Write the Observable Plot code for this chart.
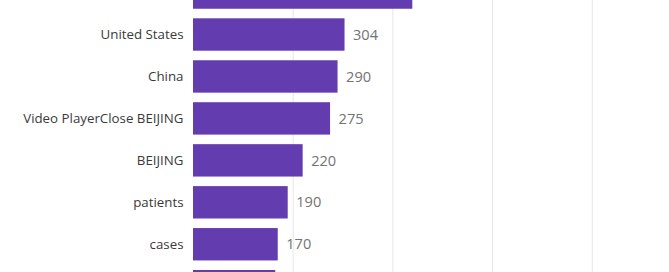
<!DOCTYPE html>
<html>
<head>
<meta charset="utf-8">
<script src="https://cdn.jsdelivr.net/npm/d3@7"></script>
<script src="https://cdn.jsdelivr.net/npm/@observablehq/plot@0.6"></script>
<style>
  html, body { margin: 0; padding: 0; background: #fff; overflow: hidden; }
  #wrap { width: 669px; height: 272px; overflow: hidden; position: relative; }
  #wrap svg { overflow: hidden; }
</style>
</head>
<body>
<div id="wrap"></div>
<script>
const categories = ["coronavirus", "United States", "China", "Video PlayerClose BEIJING", "BEIJING", "patients", "cases", "outbreak"];
const values = [440, 304, 290, 275, 220, 190, 170, 165];
const gridTicks = [200, 400, 600, 800];

const data = categories.map((c, i) => ({category: c, value: values[i]}));

const chart = Plot.plot({
  width: 669,
  height: 272,
  marginLeft: 193,
  marginRight: 0,
  marginTop: 0,
  marginBottom: 0,
  style: {fontFamily: "'Open Sans', sans-serif", background: "#fff"},
  x: {domain: [0, 955], axis: null},
  y: {
    domain: categories,
    range: [-33.2, 311.96],
    padding: 0.228,
    round: false,
    axis: null
  },
  marks: [
    Plot.gridX(gridTicks, {stroke: "#e6e6e6", strokeOpacity: 1, strokeWidth: 1}),
    Plot.barX(data, {x: "value", y: "category", fill: "#633cb0"}),
    Plot.axisY({tickSize: 0, tickPadding: 10, fontSize: 13.3, color: "#3a3a3a", label: null}),
    Plot.text(data, {x: "value", y: "category", text: d => String(d.value), dx: 8, textAnchor: "start", fill: "#737373", fontSize: 14.6})
  ]
});
document.getElementById("wrap").appendChild(chart);
</script>
</body>
</html>
